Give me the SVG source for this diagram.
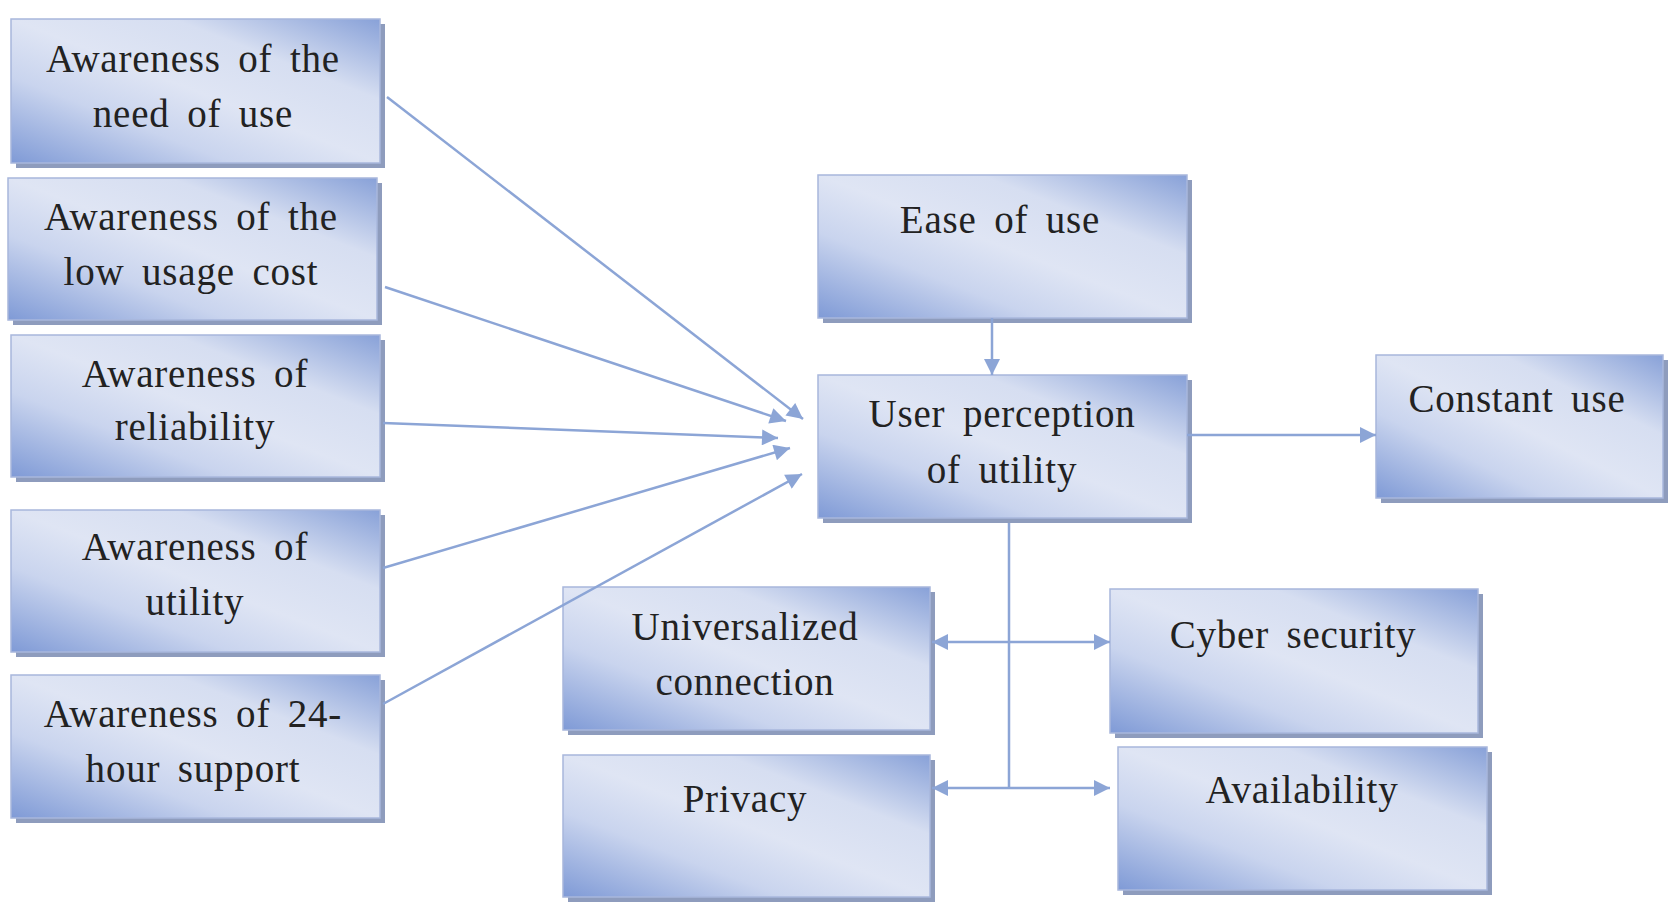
<svg xmlns="http://www.w3.org/2000/svg" width="1676" height="902" viewBox="0 0 1676 902">
<defs>
<linearGradient id="bg" x1="0" y1="1" x2="1" y2="0">
<stop offset="0" stop-color="#7f9ad6"/>
<stop offset="0.3" stop-color="#c9d4ee"/>
<stop offset="0.5" stop-color="#dfe5f4"/>
<stop offset="0.72" stop-color="#d6def1"/>
<stop offset="1" stop-color="#88a1d8"/>
</linearGradient>
<marker id="ah" viewBox="0 0 10 10" refX="10" refY="5" markerWidth="18" markerHeight="16" markerUnits="userSpaceOnUse" orient="auto-start-reverse">
<path d="M0,0 L10,5 L0,10 Z" fill="#8ca5d6"/>
</marker>
</defs>
<style>
.sh{fill:#8e9cbd}
.bx{fill:url(#bg);stroke:#a8b7dc;stroke-width:1.5}
.t{font-family:"Liberation Serif","Times New Roman",serif;font-size:39px;fill:#222;text-anchor:middle;letter-spacing:0.8px;word-spacing:7px}
.c{fill:none;stroke:#8ca5d6;stroke-width:2.5}
</style>
<rect width="1676" height="902" fill="#fff"/>
<g id="n1"><rect class="sh" x="16" y="24" width="369" height="144"/><rect class="bx" x="11" y="19" width="369" height="144"/><text class="t" x="193" y="72">Awareness of the</text><text class="t" x="193" y="127">need of use</text></g>
<g id="n2"><rect class="sh" x="13" y="183" width="369" height="142"/><rect class="bx" x="8" y="178" width="369" height="142"/><text class="t" x="191" y="230">Awareness of the</text><text class="t" x="191" y="285">low usage cost</text></g>
<g id="n3"><rect class="sh" x="16" y="340" width="369" height="142"/><rect class="bx" x="11" y="335" width="369" height="142"/><text class="t" x="195" y="387">Awareness of</text><text class="t" x="195" y="440">reliability</text></g>
<g id="n4"><rect class="sh" x="16" y="515" width="369" height="142"/><rect class="bx" x="11" y="510" width="369" height="142"/><text class="t" x="195" y="560">Awareness of</text><text class="t" x="195" y="615">utility</text></g>
<g id="n5"><rect class="sh" x="16" y="680" width="369" height="143"/><rect class="bx" x="11" y="675" width="369" height="143"/><text class="t" x="193" y="727">Awareness of 24-</text><text class="t" x="193" y="782">hour support</text></g>
<g id="n6"><rect class="sh" x="823" y="180" width="369" height="143"/><rect class="bx" x="818" y="175" width="369" height="143"/><text class="t" x="1000" y="233">Ease of use</text></g>
<g id="n7"><rect class="sh" x="823" y="380" width="369" height="143"/><rect class="bx" x="818" y="375" width="369" height="143"/><text class="t" x="1002" y="427">User perception</text><text class="t" x="1002" y="483">of utility</text></g>
<g id="n8"><rect class="sh" x="1381" y="360" width="287" height="143"/><rect class="bx" x="1376" y="355" width="287" height="143"/><text class="t" x="1517" y="412">Constant use</text></g>
<g id="n9"><rect class="sh" x="568" y="592" width="367" height="143"/><rect class="bx" x="563" y="587" width="367" height="143"/><text class="t" x="745" y="640">Universalized</text><text class="t" x="745" y="695">connection</text></g>
<g id="n10"><rect class="sh" x="568" y="760" width="367" height="142"/><rect class="bx" x="563" y="755" width="367" height="142"/><text class="t" x="745" y="812">Privacy</text></g>
<g id="n11"><rect class="sh" x="1115" y="594" width="368" height="144"/><rect class="bx" x="1110" y="589" width="368" height="144"/><text class="t" x="1293" y="648">Cyber security</text></g>
<g id="n12"><rect class="sh" x="1123" y="752" width="369" height="143"/><rect class="bx" x="1118" y="747" width="369" height="143"/><text class="t" x="1302" y="803">Availability</text></g>
<g id="connectors">
<line class="c" x1="387" y1="97" x2="803" y2="419" marker-end="url(#ah)"/>
<line class="c" x1="385" y1="287" x2="786" y2="421" marker-end="url(#ah)"/>
<line class="c" x1="383" y1="423" x2="778" y2="438" marker-end="url(#ah)"/>
<line class="c" x1="383" y1="568" x2="790" y2="448" marker-end="url(#ah)"/>
<line class="c" x1="383" y1="704" x2="802" y2="474" marker-end="url(#ah)"/>
<line class="c" x1="992" y1="318" x2="992" y2="375" marker-end="url(#ah)"/>
<line class="c" x1="1187" y1="435" x2="1376" y2="435" marker-end="url(#ah)"/>
<line class="c" x1="1009" y1="523" x2="1009" y2="788"/>
<line class="c" x1="932" y1="642" x2="1110" y2="642" marker-start="url(#ah)" marker-end="url(#ah)"/>
<line class="c" x1="932" y1="788" x2="1110" y2="788" marker-start="url(#ah)" marker-end="url(#ah)"/>
</g>
</svg>
